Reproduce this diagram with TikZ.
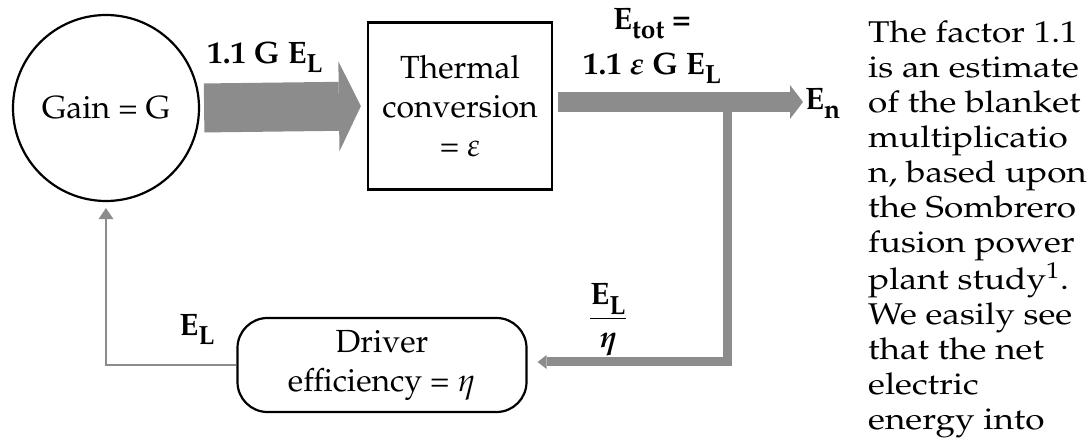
\documentclass[tikz,border=0pt]{standalone}
\usepackage[T1]{fontenc}
\usepackage{mathpazo}
\usepackage{amsmath}
\usepackage{tikz}
\usetikzlibrary{arrows.meta,positioning}
\definecolor{halftone}{gray}{0.55}
\newcommand{\lowsub}[1]{\raisebox{-0.3em}{\scalebox{0.85}{#1}}}

\begin{document}
\begin{tikzpicture}[
  x=1pt, y=-1pt,
  blk/.style={draw, line width=2.2pt, inner sep=0pt, align=center, font=\fontsize{32}{39}\selectfont},
  lbl/.style={inner sep=0pt, align=center, font=\fontsize{31}{45}\selectfont\bfseries},
  fatarr/.style={draw=halftone, line width=49pt, -{Triangle[length=22pt, width=90pt, line width=0pt]}},
  midarr/.style={draw=halftone, line width=20pt, -{Triangle[length=13pt, width=34pt, line width=0pt]}},
  feedarr/.style={draw=halftone, line width=9pt, -{Triangle[length=9pt, width=14pt, line width=0pt]}},
  backarr/.style={draw=halftone, line width=2pt, -{Triangle[length=11pt, width=15pt, line width=0pt]}}
]
\useasboundingbox (0,0) rectangle (1090,438);

\node[blk, circle, minimum size=186pt] (gain) at (106,108) {Gain = G};
\node[blk, minimum width=184pt, minimum height=167pt] (therm) at (460,106) {Thermal\\conversion\\= $\varepsilon$};
\node[blk, rounded corners=30pt, minimum width=289pt, minimum height=94pt] (driver) at (382,365) {Driver\\efficiency = $\eta$};
\node[lbl, anchor=west] (en) at (805,104) {E\lowsub{n}};
\coordinate (branch) at (727,102);

\node[lbl] (gel) at (265,57) {1.1 G E\lowsub{L}};
\node[lbl] (etot) at (652,46) {E\lowsub{tot} =\\1.1 $\boldsymbol{\varepsilon}$ G E\lowsub{L}};
\node[lbl] (el) at (197,330) {E\lowsub{L}};
\node[lbl] (elfrac) at (608,320) {$\dfrac{\text{E\lowsub{L}}}{\boldsymbol{\eta}}$};

\draw[fatarr, shorten <=4pt, shorten >=6pt] (gain.east) -- (therm.west);
\draw[midarr, shorten <=5pt, shorten >=2pt] ([yshift=4pt]therm.east) -- ([yshift=4pt]therm.east -| en.west);
\draw[feedarr, shorten >=10pt] (branch) |- ([yshift=3pt]driver.east);
\draw[backarr, shorten >=6pt] (driver.west) -| (gain.south);

\node[anchor=north west, inner sep=0pt, font=\fontsize{30}{35}\selectfont] (note) at (868,18)
  {\scalebox{1.17}[1]{\begin{tabular}{@{}l@{}}
  The factor 1.1\\
  is an estimate\\
  of the blanket\\
  multiplicatio\\
  n, based upon\\
  the Sombrero\\
  fusion power\\
  plant study\textsuperscript{1}.\\
  We easily see\\
  that the net\\
  electric\\
  energy into
  \end{tabular}}};
\end{tikzpicture}
\end{document}
